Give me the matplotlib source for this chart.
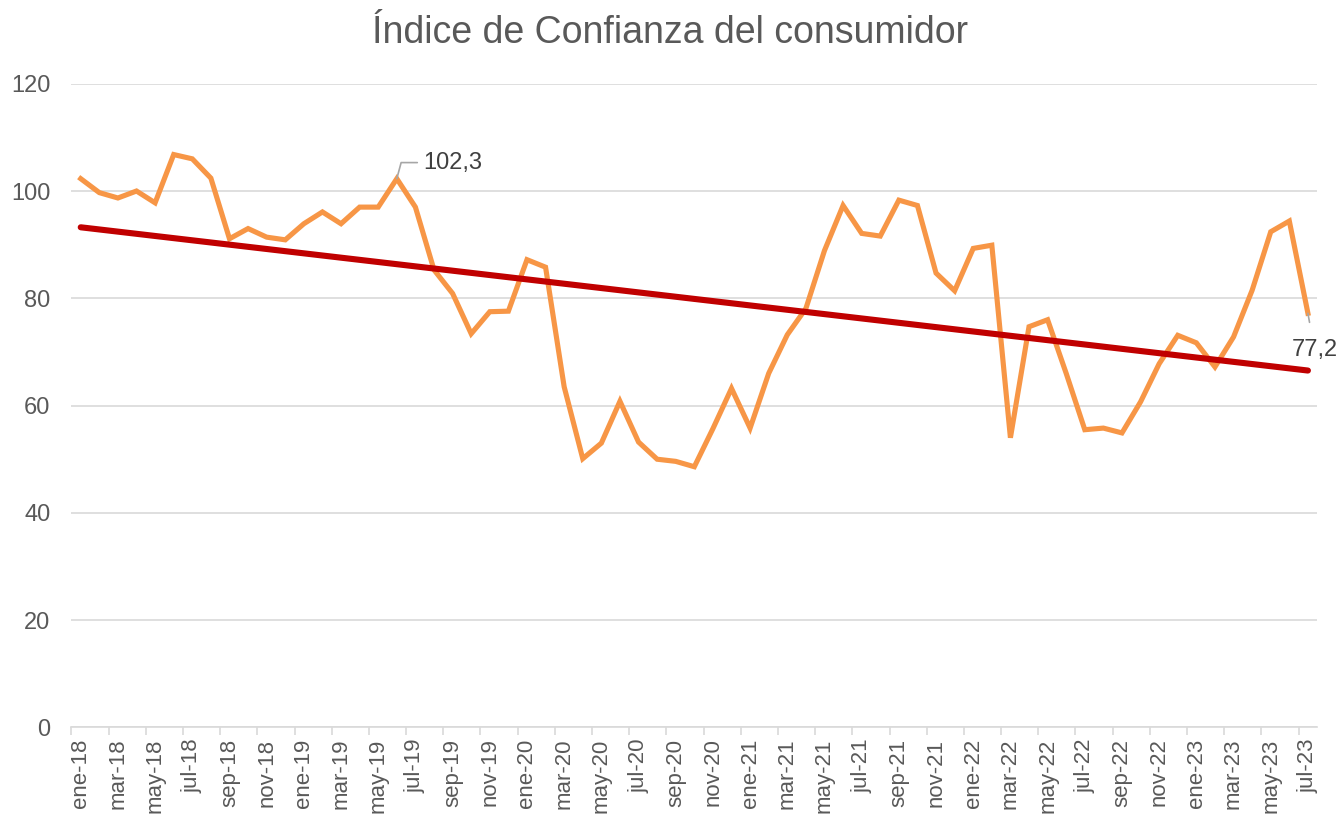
import numpy as np
import matplotlib
matplotlib.use("Agg")
import matplotlib.pyplot as plt

plt.rcParams["font.family"] = ["Liberation Sans", "DejaVu Sans"]

MESES = ["ene", "feb", "mar", "abr", "may", "jun", "jul", "ago", "sep", "oct", "nov", "dic"]
fechas = [f"{m}-{a}" for a in range(18, 24) for m in MESES][:67]   # ene-18 .. jul-23

icc = [102.3, 99.7, 98.7, 100.0, 97.8, 106.8, 106.0, 102.4, 91.1, 93.0, 91.4, 90.9,
       93.9, 96.1, 93.9, 97.0, 97.0, 102.3, 97.0, 85.3, 80.9, 73.4, 77.5, 77.6,
       87.2, 85.8, 63.5, 50.1, 53.0, 60.8, 53.2, 50.0, 49.6, 48.6, 55.7, 63.2,
       55.8, 66.0, 73.2, 78.1, 88.9, 97.3, 92.1, 91.6, 98.3, 97.3, 84.7, 81.4,
       89.3, 89.9, 54.0, 74.7, 76.0, 66.0, 55.5, 55.8, 54.9, 60.7, 67.8, 73.1,
       71.7, 67.2, 72.8, 81.5, 92.4, 94.4, 77.2]

GRIS = "#595959"
x = np.arange(len(icc))
# linear trendline, same as the Excel one
coef = np.polyfit(x, icc, 1)
tend = np.polyval(coef, x)

fig = plt.figure(figsize=(13.4, 8.21), dpi=100)
ax = fig.add_axes([0.0533, 0.114, 0.9297, 0.784])

ax.plot(x, icc, color="#F79646", lw=3.7, solid_joinstyle="miter", zorder=3)
ax.plot(x, tend, color="#C00000", lw=4.4, solid_capstyle="round", zorder=4)

# data labels with leader lines
i_max = 17
ax.annotate(f"{icc[i_max]:.1f}".replace(".", ","), xy=(x[i_max], icc[i_max]),
            xytext=(x[i_max] + 1.4, icc[i_max] + 3.0), fontsize=17, color="#404040",
            va="center", ha="left",
            arrowprops=dict(arrowstyle="-", color="#A6A6A6", lw=1.2,
                            connectionstyle="angle,angleA=0,angleB=75,rad=0",
                            shrinkA=2, shrinkB=0))
i_last = len(icc) - 1
ax.annotate(f"{icc[i_last]:.1f}".replace(".", ","), xy=(x[i_last], icc[i_last]),
            xytext=(x[i_last] + 0.35, icc[i_last] - 6.8), fontsize=17, color="#404040",
            va="center", ha="center",
            arrowprops=dict(arrowstyle="-", color="#A6A6A6", lw=1.2, shrinkA=10, shrinkB=0),
            annotation_clip=False)

ax.set_xlim(-0.5, len(icc) - 0.5)
ax.set_ylim(0, 120)
ax.set_yticks(range(0, 121, 20))
ax.set_xticks(x[::2])
ax.set_xticklabels(fechas[::2], rotation=90, fontsize=16, color=GRIS)
ax.set_xticks(np.arange(-0.5, len(icc), 2), minor=True)
ax.tick_params(axis="x", which="major", length=0, pad=8)
ax.tick_params(axis="x", which="minor", length=6, color="#D9D9D9", width=1.2)
ax.tick_params(axis="y", length=0, labelsize=17, labelcolor=GRIS, pad=15)

ax.grid(axis="y", color="#D9D9D9", lw=1.2, zorder=0)
for s in ["top", "right", "left"]:
    ax.spines[s].set_visible(False)
ax.spines["bottom"].set_color("#D9D9D9")
ax.spines["bottom"].set_linewidth(1.2)
ax.set_axisbelow(True)

fig.suptitle("Índice de Confianza del consumidor", fontsize=27, color=GRIS, y=0.982)

fig.savefig("out.png", dpi=100, facecolor="white")
